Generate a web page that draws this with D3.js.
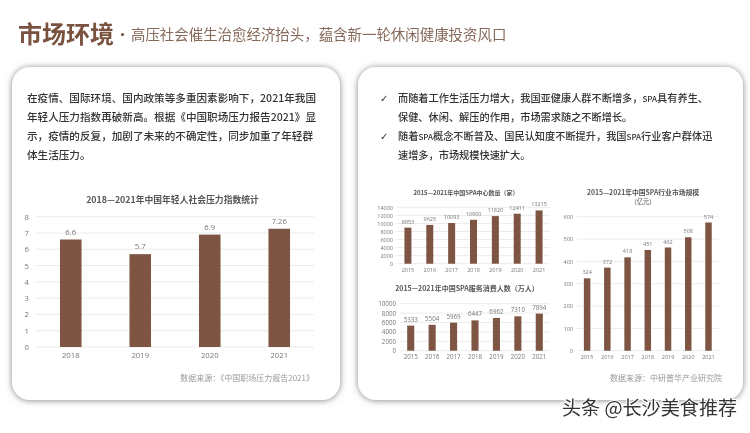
<!DOCTYPE html>
<html>
<head>
<meta charset="utf-8">
<script src="https://d3js.org/d3.v7.min.js"></script>
<style>
html, body { margin: 0; padding: 0; background: #fff; }
svg { display: block; filter: blur(0.3px); }
text { font-family: "Noto Sans CJK SC", "Noto Sans", sans-serif; }
</style>
</head>
<body>
<script>
var pressureYears = ["2018", "2019", "2020", "2021"],
    pressureValues = [6.6, 5.7, 6.9, 7.26],
    pressureTicks = [0, 1, 2, 3, 4, 5, 6, 7, 8];

var spaYears = ["2015", "2016", "2017", "2018", "2019", "2020", "2021"],
    centerValues = [8953, 9625, 10093, 10900, 11820, 12411, 13215],
    centerTicks = [0, 2000, 4000, 6000, 8000, 10000, 12000, 14000],
    consumerValues = [5333, 5504, 5969, 6447, 6962, 7310, 7894],
    consumerTicks = [0, 2000, 4000, 6000, 8000, 10000],
    marketValues = [324, 372, 418, 451, 462, 508, 574],
    marketTicks = [0, 100, 200, 300, 400, 500, 600];

var leftText = [
  "在疫情、国际环境、国内政策等多重因素影响下，2021年我国",
  "年轻人压力指数再破新高。根据《中国职场压力报告2021》显",
  "示，疫情的反复，加剧了未来的不确定性，同步加重了年轻群",
  "体生活压力。"
];
var rightText = [
  "而随着工作生活压力增大，我国亚健康人群不断增多，SPA具有养生、",
  "保健、休闲、解压的作用，市场需求随之不断增长。",
  "随着SPA概念不断普及、国民认知度不断提升，我国SPA行业客户群体迅",
  "速增多，市场规模快速扩大。"
];

var brown = "#7d5542";

var svg = d3.select("body").append("svg")
    .attr("width", 750)
    .attr("height", 433);

var shadow = svg.append("defs").append("filter")
    .attr("id", "shadow")
    .attr("x", "-10%").attr("y", "-10%")
    .attr("width", "120%").attr("height", "120%");
shadow.append("feDropShadow")
    .attr("dx", 0).attr("dy", 0.5)
    .attr("stdDeviation", 3)
    .attr("flood-color", "#777")
    .attr("flood-opacity", 0.9);

svg.append("rect").attr("width", 750).attr("height", 433).attr("fill", "#fff");

// header
svg.append("text").attr("x", 18).attr("y", 43)
    .attr("font-size", 24).attr("font-weight", 700).attr("fill", "#7a5340")
    .text("市场环境");
svg.append("circle").attr("cx", 122.5).attr("cy", 34.5).attr("r", 1.6).attr("fill", "#7a5340");
svg.append("text").attr("x", 131).attr("y", 40)
    .attr("font-size", 14.45).attr("fill", "#86695a")
    .text("高压社会催生治愈经济抬头，蕴含新一轮休闲健康投资风口");

// cards
[[12, 67, 328, 333], [358, 67, 385, 333]].forEach(function(c) {
  svg.append("rect")
      .attr("x", c[0]).attr("y", c[1])
      .attr("width", c[2]).attr("height", c[3])
      .attr("rx", 18)
      .attr("fill", "#fff")
      .attr("filter", "url(#shadow)");
});

// body copy
svg.selectAll(".left-line").data(leftText).enter().append("text")
    .attr("class", "left-line")
    .attr("x", 27)
    .attr("y", function(d, i) { return 101.5 + i * 19; })
    .attr("font-size", 10.6).attr("font-weight", 500).attr("fill", "#333")
    .text(function(d) { return d; });

// SPA is set smaller than the chinese around it
svg.selectAll(".right-line").data(rightText).enter().append("text")
    .attr("class", "right-line")
    .attr("x", 398)
    .attr("y", function(d, i) { return 102 + i * 19; })
    .attr("font-size", 10.2).attr("font-weight", 500).attr("fill", "#333")
  .selectAll("tspan")
    .data(function(d) { return d.split(/(SPA)/); })
  .enter().append("tspan")
    .attr("font-size", function(d) { return d === "SPA" ? 8 : null; })
    .text(function(d) { return d; });

svg.selectAll(".check").data([0, 2]).enter().append("text")
    .attr("class", "check")
    .attr("x", 380)
    .attr("y", function(d) { return 102 + d * 19; })
    .attr("font-size", 10).attr("fill", "#333")
    .style("font-family", "DejaVu Sans")
    .text("✓");

function barChart(o) {
  var x = d3.scaleBand().domain(o.years).range(o.xRange).paddingInner(o.padding).paddingOuter(o.padding / 2);
  var y = d3.scaleLinear().domain(d3.extent(o.ticks)).range(o.yRange);
  var g = svg.append("g");

  g.selectAll(".grid").data(o.ticks).enter().append("line")
      .attr("x1", o.xRange[0]).attr("x2", o.xRange[1])
      .attr("y1", function(d) { return y(d); })
      .attr("y2", function(d) { return y(d); })
      .attr("stroke", "#e6e6e6").attr("stroke-width", 0.8);

  var yAxis = g.append("g")
      .attr("transform", "translate(" + o.xRange[0] + ",0)")
      .call(d3.axisLeft(y).tickValues(o.ticks).tickSize(0).tickPadding(o.tickPad).tickFormat(d3.format("d")));
  var xAxis = g.append("g")
      .attr("transform", "translate(0," + o.yRange[0] + ")")
      .call(d3.axisBottom(x).tickSize(0).tickPadding(o.xPad));
  yAxis.select(".domain").remove();
  xAxis.select(".domain").remove();
  g.selectAll(".tick text")
      .attr("fill", "#777")
      .style("font-family", "Open Sans")
      .style("font-size", o.fontSize + "px");

  g.selectAll(".bar").data(o.values).enter().append("rect")
      .attr("x", function(d, i) { return x(o.years[i]); })
      .attr("y", function(d) { return y(d); })
      .attr("width", x.bandwidth())
      .attr("height", function(d) { return y(0) - y(d); })
      .attr("fill", brown);

  g.selectAll(".val").data(o.values).enter().append("text")
      .attr("x", function(d, i) { return x(o.years[i]) + x.bandwidth() / 2; })
      .attr("y", function(d) { return y(d) - o.labelGap; })
      .attr("text-anchor", "middle")
      .attr("fill", "#777")
      .style("font-family", "Open Sans")
      .style("font-size", o.fontSize + "px")
      .text(function(d) { return d; });

  o.title.forEach(function(t, i) {
    g.append("text")
        .attr("x", o.titleX).attr("y", o.titleY + i * (o.titleStep || 0))
        .attr("text-anchor", "middle")
        .attr("font-size", i ? o.titleSize - 0.5 : o.titleSize)
        .attr("font-weight", i ? 400 : 700)
        .attr("fill", "#555")
        .text(t);
  });
}

barChart({
  years: pressureYears, values: pressureValues, ticks: pressureTicks,
  xRange: [36, 314], yRange: [347, 216.7], padding: 0.69,
  tickPad: 7, xPad: 6, labelGap: 5, fontSize: 7.7,
  title: ["2018—2021年中国年轻人社会压力指数统计"], titleX: 172.5, titleY: 203, titleSize: 8.8
});

barChart({
  years: spaYears, values: centerValues, ticks: centerTicks,
  xRange: [397, 550], yRange: [263.7, 207.3], padding: 0.68,
  tickPad: 4, xPad: 4, labelGap: 4, fontSize: 5.5,
  title: ["2015—2021年中国SPA中心数量（家）"], titleX: 466, titleY: 195, titleSize: 6
});

barChart({
  years: spaYears, values: consumerValues, ticks: consumerTicks,
  xRange: [400, 550], yRange: [350.7, 303.7], padding: 0.67,
  tickPad: 4, xPad: 4, labelGap: 4, fontSize: 6.2,
  title: ["2015—2021年中国SPA服务消费人数（万人）"], titleX: 467, titleY: 291, titleSize: 7
});

barChart({
  years: spaYears, values: marketValues, ticks: marketTicks,
  xRange: [577, 718.6], yRange: [350.7, 216.7], padding: 0.68,
  tickPad: 4, xPad: 4, labelGap: 4, fontSize: 5.5,
  title: ["2015—2021年中国SPA行业市场规模", "（亿元）"], titleX: 643, titleY: 195, titleStep: 9, titleSize: 6.8
});

// sources
svg.append("text").attr("x", 314).attr("y", 381)
    .attr("text-anchor", "end").attr("font-size", 8).attr("fill", "#999")
    .text("数据来源：《中国职场压力报告2021》");
svg.append("text").attr("x", 722).attr("y", 381)
    .attr("text-anchor", "end").attr("font-size", 8).attr("fill", "#999")
    .text("数据来源：中研普华产业研究院");

// watermark
svg.append("text").attr("x", 562).attr("y", 415)
    .attr("font-size", 19.1).attr("fill", "#333")
    .attr("stroke", "#fff").attr("stroke-width", 2).attr("paint-order", "stroke")
    .text("头条 @长沙美食推荐");
</script>
</body>
</html>
